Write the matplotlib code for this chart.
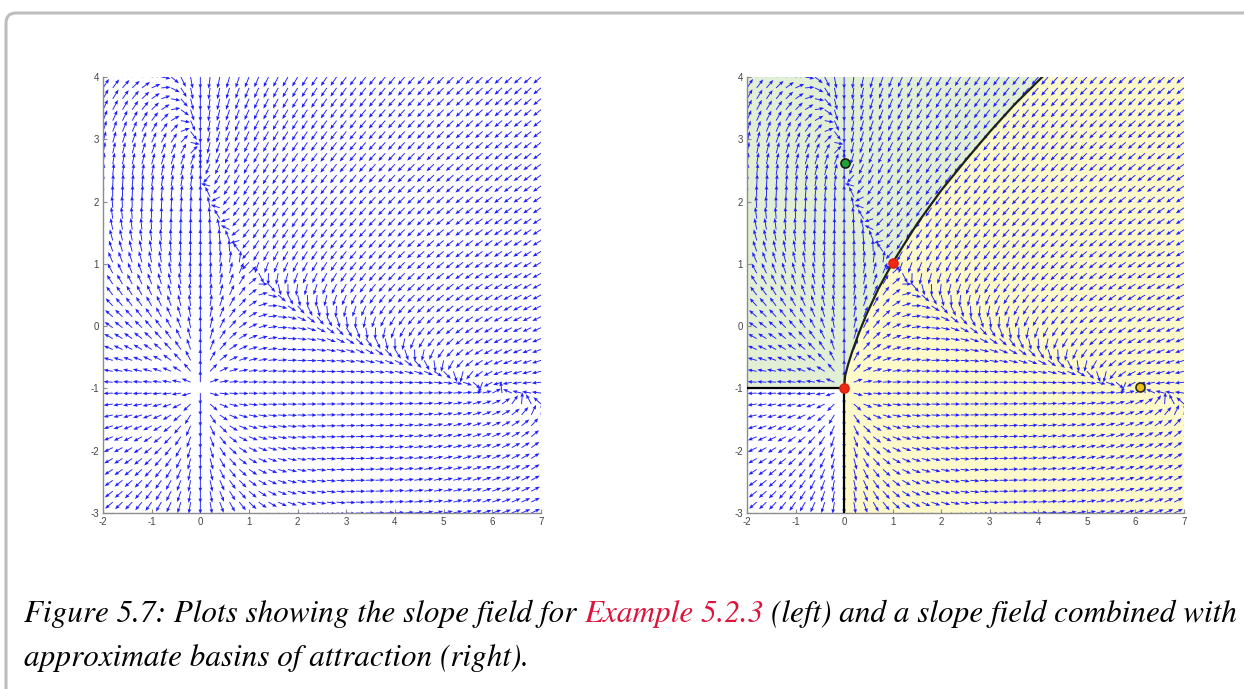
import numpy as np
import matplotlib
matplotlib.use('Agg')
import matplotlib.pyplot as plt
from matplotlib.patches import FancyBboxPatch, Polygon
from matplotlib.transforms import IdentityTransform

plt.rcParams['axes.unicode_minus'] = False

# competition model read off the equilibria in the picture:
# x' = x (K1 - x - A (y+1)),  y' = (y+1) (K2 - (y+1) - B x)
K1, K2 = 6.0, 3.6
A, B = 2.5, 1.6

# quiver grid
x_grid = np.linspace(-2, 7, 46)
y_grid = np.linspace(-3, 4, 41)
arrow_len = 0.19

# separatrix (black curve on the right panel)
sep_x = [0, 0.02, 0.08, 0.17, 0.30, 0.45, 0.70, 1.00, 1.50, 2.00, 2.50, 3.00, 3.50, 4.08]
sep_y = [-1, -0.80, -0.62, -0.40, -0.12, 0.17, 0.59, 1.02, 1.64, 2.18, 2.66, 3.12, 3.55, 4.0]

# equilibrium markers
eq_x = [0.02, 1.0, 0.0, 6.1]
eq_y = [2.62, 1.02, -1.0, -0.98]
eq_face = ['#22a33a', '#ee2a10', '#ee2a10', '#e9c21a']
eq_edge = ['#1a1a1a', '#e02010', '#e02010', '#2a2a1a']

xticks = list(range(-2, 8))
yticks = list(range(-3, 5))

caption_1 = ["Figure 5.7: Plots showing the slope field for", "Example 5.2.3",
             "(left) and a slope field combined with"]
caption_2 = "approximate basins of attraction (right)."

W, H = 1244, 689
fig = plt.figure(figsize=(W / 100, H / 100), dpi=100)

# rounded frame
frame = FancyBboxPatch((6, -30), 1300, H - 13 + 30,
                       boxstyle='round,pad=0,rounding_size=10',
                       transform=IdentityTransform(), facecolor='none',
                       edgecolor='#bdbdbd', linewidth=2.2)
fig.add_artist(frame)

X, Y = np.meshgrid(x_grid, y_grid)
U = X * (K1 - X - A * (Y + 1))
V = (Y + 1) * (K2 - (Y + 1) - B * X)
N = np.hypot(U, V)
N[N == 0] = 1
U = U / N * arrow_len
V = V / N * arrow_len


def setup(ax):
    ax.set_xlim(-2, 7)
    ax.set_ylim(-3, 4)
    ax.set_facecolor('none')
    for s in ['top', 'right']:
        ax.spines[s].set_visible(False)
    for s in ['left', 'bottom']:
        ax.spines[s].set_color('#8c8c8c')
        ax.spines[s].set_linewidth(1.0)
    ax.set_xticks(xticks)
    ax.set_yticks(yticks)
    ax.tick_params(direction='in', length=3, width=0.8, color='#8c8c8c',
                   labelsize=7, labelcolor='#444444', pad=3)
    for lab in ax.get_xticklabels() + ax.get_yticklabels():
        lab.set_family('Liberation Sans')


def draw_field(ax):
    ax.quiver(X, Y, U, V, angles='xy', scale_units='xy', scale=1,
              color='#1f1fff', width=0.0021, headwidth=4, headlength=5,
              headaxislength=4.5, zorder=2)


ax1 = fig.add_axes([103 / W, 1 - 513 / H, 438 / W, 436 / H])
setup(ax1)
draw_field(ax1)

ax2 = fig.add_axes([747 / W, 1 - 513 / H, 437 / W, 436 / H])
setup(ax2)
sep = list(zip(sep_x, sep_y))
green = [(-2, -1)] + sep + [(-2, 4)]
yellow = [(0, -3)] + sep + [(7, 4), (7, -3)]
ax2.add_patch(Polygon(green, closed=True, facecolor='#e2efd5', edgecolor='none', zorder=0))
ax2.add_patch(Polygon(yellow, closed=True, facecolor='#fdf9c8', edgecolor='none', zorder=0))
draw_field(ax2)
ax2.plot(sep_x, sep_y, color='#1c2416', lw=1.6, zorder=3)
ax2.plot([-2, 0], [-1, -1], color='black', lw=1.6, zorder=3)
ax2.plot([0, 0], [-3, -1], color='black', lw=1.6, zorder=3)
for xv, yv, fc, ec in zip(eq_x, eq_y, eq_face, eq_edge):
    ax2.plot([xv], [yv], 'o', ms=6.5, mfc=fc, mec=ec, mew=1.2, zorder=4, clip_on=False)

# caption, built from segments so the example link can be coloured
cap_font = dict(family='STIXGeneral', style='italic', size=22.4)
fig.canvas.draw()
r = fig.canvas.get_renderer()


def width_px(s):
    t = fig.text(0, 0, s, **cap_font)
    w = t.get_window_extent(r).width
    t.remove()
    return w


space = width_px('a a') - width_px('aa')
x = 24
y1 = 1 - 622 / H
for seg, col in zip(caption_1, ['black', '#dc143c', 'black']):
    t = fig.text(x / W, y1, seg, color=col, va='baseline', **cap_font)
    x += t.get_window_extent(r).width + space
fig.text(24 / W, 1 - 666 / H, caption_2, color='black', va='baseline', **cap_font)

fig.savefig('out.png', dpi=100, facecolor='white')
